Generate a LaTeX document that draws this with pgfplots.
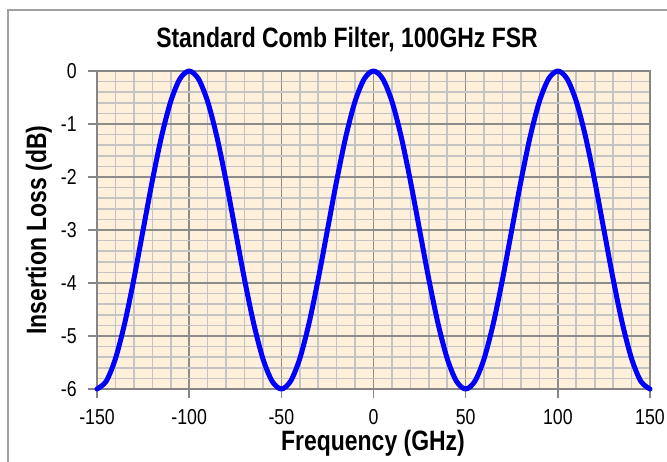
\documentclass[border=0pt]{standalone}
\usepackage{fontspec}
\setmainfont{Liberation Sans}[FakeStretch=0.82]
\usepackage{pgfplots}
\pgfplotsset{compat=1.18}
\definecolor{plotbg}{HTML}{FFF0DB}
\definecolor{majgrid}{HTML}{8C8C8C}
\definecolor{mingrid}{HTML}{C4C4C4}
\definecolor{axframe}{HTML}{868686}
\definecolor{chartframe}{HTML}{A0A0A0}

\begin{document}
\begin{tikzpicture}
\begin{scope}[x=0.5pt,y=0.5pt]
  \useasboundingbox (0,0) rectangle (667,461);
  \draw[chartframe, line width=1pt] (8,451) rectangle (690,-20);
\end{scope}
\begin{axis}[
    at={(48.5pt,36pt)}, anchor=south west,
    scale only axis,
    width=276.5pt, height=159pt,
    xmin=-150, xmax=150, ymin=-6, ymax=0,
    xtick={-150,-100,...,150},
    ytick={-6,-5,...,0},
    minor x tick num=4,
    minor y tick num=4,
    grid=both,
    major grid style={majgrid, line width=0.8pt},
    minor grid style={mingrid, line width=0.8pt},
    axis line style={axframe, line width=0.8pt},
    axis background/.style={fill=plotbg},
    tick align=outside,
    xtick pos=bottom, ytick pos=left,
    major tick length=4.5pt,
    minor tick length=0pt,
    tick style={axframe, line width=0.8pt},
    /pgf/number format/assume math mode=true,
    ticklabel style={font=\fontsize{10.8}{12}\selectfont, inner sep=0pt},
    yticklabel style={xshift=-5.5pt},
    xticklabel style={yshift=-5.5pt},
    clip=false,
]
\addplot[color=blue, line width=2.5pt, smooth, line cap=round, line join=round] table {
x y
-150 -6
-145 -5.8532
-140 -5.4271
-135 -4.7634
-130 -3.9271
-125 -3
-120 -2.0729
-115 -1.2366
-110 -0.5729
-105 -0.1468
-100 0
-95 -0.1468
-90 -0.5729
-85 -1.2366
-80 -2.0729
-75 -3
-70 -3.9271
-65 -4.7634
-60 -5.4271
-55 -5.8532
-50 -6
-45 -5.8532
-40 -5.4271
-35 -4.7634
-30 -3.9271
-25 -3
-20 -2.0729
-15 -1.2366
-10 -0.5729
-5 -0.1468
0 0
5 -0.1468
10 -0.5729
15 -1.2366
20 -2.0729
25 -3
30 -3.9271
35 -4.7634
40 -5.4271
45 -5.8532
50 -6
55 -5.8532
60 -5.4271
65 -4.7634
70 -3.9271
75 -3
80 -2.0729
85 -1.2366
90 -0.5729
95 -0.1468
100 0
105 -0.1468
110 -0.5729
115 -1.2366
120 -2.0729
125 -3
130 -3.9271
135 -4.7634
140 -5.4271
145 -5.8532
150 -6
};
\end{axis}
\begin{scope}[x=0.5pt,y=0.5pt]
  \node[font=\bfseries\fontsize{14}{16}\selectfont, anchor=base, inner sep=0pt] at (347,413) {Standard Comb Filter, 100GHz FSR};
  \node[font=\bfseries\fontsize{14}{16}\selectfont, anchor=base, inner sep=0pt] at (373,11) {Frequency (GHz)};
  \node[font=\bfseries\fontsize{14}{16}\selectfont, anchor=base, inner sep=0pt, rotate=90] at (46,231) {Insertion Loss (dB)};
\end{scope}
\end{tikzpicture}
\end{document}
